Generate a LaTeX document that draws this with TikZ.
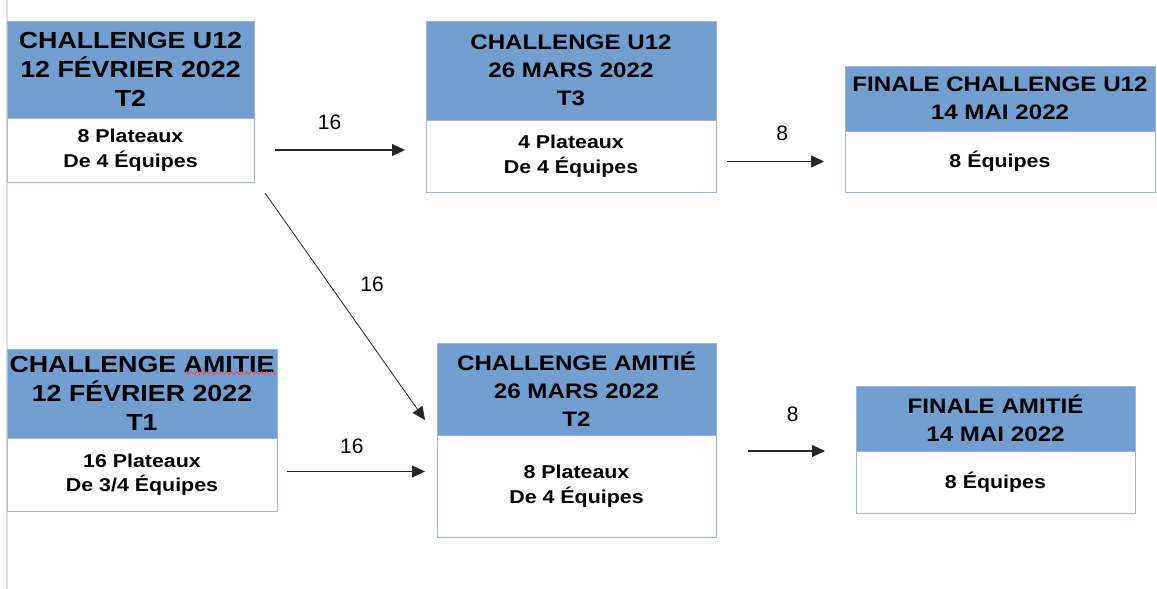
\documentclass[tikz,border=0pt]{standalone}
\usepackage{fontspec}
\newfontfamily\stageFont{Liberation Sans}[FakeStretch=1.15]
\newfontfamily\countFont{Liberation Sans}
\usepackage{xcolor}
\definecolor{HEADCOLOR}{HTML}{729FCF}
\definecolor{EDGECOLOR}{HTML}{9DB7DC}
\colorlet{ARROWCOLOR}{black!85}
\colorlet{PAGECOLOR}{gray!25}
\usepackage{tikz}
\usetikzlibrary{positioning,calc,arrows.meta,decorations.pathmorphing}
\tikzset{
  basic-style/.style = {
    rectangle, draw=EDGECOLOR, line width=1pt,
    fill=#1,
    inner sep=1pt, outer sep=0pt,
    align=center, text=black
  },
  head-style/.style = {
    basic-style=HEADCOLOR,
    font=\stageFont\bfseries\fontsize{21}{28}\selectfont
  },
  big-head-style/.style = {
    head-style,
    font=\stageFont\bfseries\fontsize{23.3}{29}\selectfont
  },
  body-style/.style = {
    basic-style=white,
    font=\stageFont\bfseries\fontsize{18.6}{24.5}\selectfont
  },
  count-style/.style = {
    inner sep=0pt, text=black,
    font=\countFont\fontsize{21}{21}\selectfont
  },
  every edge/.style = {draw, ARROWCOLOR, line width=1.1pt, -{Triangle[length=13pt,width=12pt]}}
}
\def\createStage name:#1 at:#2 width:#3 style:#4 head:#5 high:#6 body:#7 low:#8;{
  \node [#4, anchor=north west, minimum width=#3, minimum height=#6] (#1-head) at #2 {#5};
  \node [body-style, minimum width=#3, minimum height=#8, below=0pt of #1-head] (#1-body) {#7};
}

\begin{document}
\begin{tikzpicture}[x=1pt, y=-1pt]
  \useasboundingbox (0,0) rectangle (1157,589);
  \draw[PAGECOLOR, line width=1.5pt] (7,0) -- (7,589);

  \createStage name:u12t2 at:(7,21) width:247pt style:big-head-style head:{CHALLENGE U12\\12 FÉVRIER 2022\\T2} high:97pt body:{8 Plateaux\\De 4 Équipes} low:64pt;
  \createStage name:u12t3 at:(426,21) width:290pt style:head-style head:{CHALLENGE U12\\26 MARS 2022\\T3} high:99pt body:{4 Plateaux\\De 4 Équipes} low:72pt;
  \createStage name:finu12 at:(845,66) width:310pt style:head-style head:{FINALE CHALLENGE U12\\14 MAI 2022} high:65pt body:{8 Équipes} low:61pt;
  \createStage name:ami1 at:(7,349) width:270pt style:big-head-style head:{CHALLENGE AMITIE\\12 FÉVRIER 2022\\T1} high:89pt body:{16 Plateaux\\De 3/4 Équipes} low:73pt;
  \createStage name:ami2 at:(437,343) width:279pt style:head-style head:{CHALLENGE AMITIÉ\\26 MARS 2022\\T2} high:92pt body:{8 Plateaux\\De 4 Équipes} low:102pt;
  \createStage name:finami at:(856,386) width:279pt style:head-style head:{FINALE AMITIÉ\\14 MAI 2022} high:65pt body:{8 Équipes} low:62pt;

  % spell check mark
  \draw[red!75, line width=0.7pt, decorate, decoration={snake, amplitude=1.5pt, segment length=5pt}]
    ($(ami1-head.north east)+(-92,24)$) -- ($(ami1-head.north east)+(-1,24)$);

  \path ($(u12t2-body.east)+(21,0)$) edge node[count-style, pos=0.42, above=20pt]{16} ($(u12t2-body.east -| u12t3-body.west)+(-21,0)$);
  \path ($(u12t3-body.east |- finu12-body.west)+(11,0)$) edge node[count-style, pos=0.57, above=20pt]{8} ($(finu12-body.west)+(-21,0)$);
  \path ($(u12t2-body.south east)+(11,11)$) edge[line width=0.8pt] node[count-style, pos=0.4, right=31pt]{16} ($(ami2-head.south west)+(-12,-15)$);
  \path ($(ami1-body.east)+(10,-3)$) edge node[count-style, pos=0.47, above=17pt]{16} ($(ami1-body.east -| ami2-body.west)+(-12,-3)$);
  \path ($(ami2-body.east |- finami-body.north west)+(32,0)$) edge node[count-style, pos=0.58, above=29pt]{8} ($(finami-body.north west)+(-31,0)$);
\end{tikzpicture}
\end{document}
